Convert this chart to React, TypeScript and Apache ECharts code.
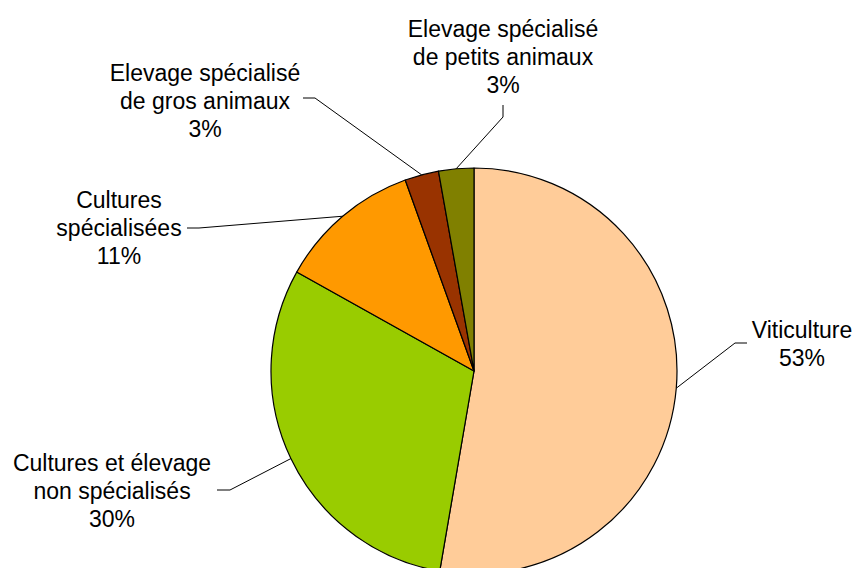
import React, { useEffect, useRef } from "react";
import * as echarts from "echarts";

const categories = [
  "Viticulture",
  "Cultures et élevage\nnon spécialisés",
  "Cultures\nspécialisées",
  "Elevage spécialisé\nde gros animaux",
  "Elevage spécialisé\nde petits animaux",
];
const values = [52.7, 30.4, 11.4, 2.7, 2.8];
const colors = ["#FFCC99", "#99CC00", "#FF9900", "#993300", "#808000"];

// label block centre and elbow points of the leader lines (layout only)
const labelCenters = [
  [802, 344],
  [112, 491],
  [119, 228],
  [205, 101],
  [503, 57],
];
const lineElbows = [
  [[735, 343], [747, 343]],
  [[230, 490], [217, 490]],
  [[199, 228], [187, 228]],
  [[315, 98], [303, 98]],
  [[503, 117], [503, 105]],
];

export default function App() {
  const ref = useRef<HTMLDivElement>(null);
  useEffect(() => {
    if (!ref.current) return;
    const chart = echarts.init(ref.current, null, { renderer: "svg" });
    chart.setOption({
      animation: false,
      backgroundColor: "#ffffff",
      series: [
        {
          type: "pie",
          center: [474, 371],
          radius: 203,
          startAngle: 90,
          clockwise: true,
          avoidLabelOverlap: false,
          itemStyle: { borderColor: "#000000", borderWidth: 1.2 },
          label: {
            show: true,
            position: "outer",
            fontFamily: "Liberation Sans, Arial, sans-serif",
            fontSize: 23,
            lineHeight: 28,
            color: "#000000",
            formatter: (p: any) => `${p.name}\n${Math.round(p.value)}%`,
          },
          labelLine: {
            show: true,
            length: 20,
            length2: 12,
            lineStyle: { color: "#000000", width: 1 },
          },
          labelLayout: (params: any) => {
            const i = params.dataIndex;
            const p0 = params.labelLinePoints ? params.labelLinePoints[0] : lineElbows[i][0];
            return {
              x: labelCenters[i][0],
              y: labelCenters[i][1],
              align: "center",
              verticalAlign: "middle",
              labelLinePoints: [p0, lineElbows[i][0], lineElbows[i][1]],
            };
          },
          data: categories.map((name, i) => ({
            name,
            value: values[i],
            itemStyle: { color: colors[i] },
          })),
        },
      ],
    });
    return () => chart.dispose();
  }, []);
  return (
    <div
      ref={ref}
      style={{ position: "absolute", left: 0, top: 0, width: 853, height: 568 }}
    />
  );
}
